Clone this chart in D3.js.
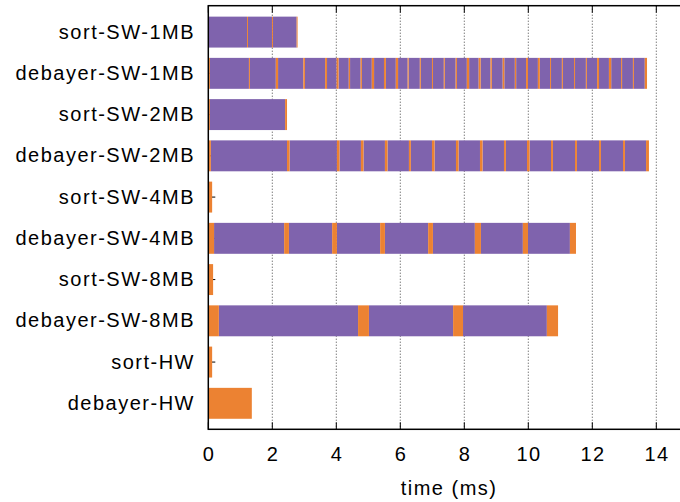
<!DOCTYPE html>
<html>
<head>
<meta charset="utf-8">
<script src="https://cdn.jsdelivr.net/npm/d3@7"></script>
<style>
  html, body { margin: 0; padding: 0; background: #fff; }
  svg { display: block; }
  text { font-family: "Liberation Sans", Arial, Helvetica, sans-serif; font-size: 20px; letter-spacing: 1.5px; fill: #000; }
</style>
</head>
<body>
<svg id="chart" width="680" height="502"></svg>
<script>
// Task rows, top to bottom
const categories = [
  "sort-SW-1MB", "debayer-SW-1MB",
  "sort-SW-2MB", "debayer-SW-2MB",
  "sort-SW-4MB", "debayer-SW-4MB",
  "sort-SW-8MB", "debayer-SW-8MB",
  "sort-HW", "debayer-HW"
];

const xTicks = [0, 2, 4, 6, 8, 10, 12, 14];
const xLabel = "time (ms)";

// Intervals in ms: compute phases and transfer phases per row
const computeSortSW1MB = [[0, 1.21], [1.24, 1.99], [2.02, 2.76]];
const transferSortSW1MB = [[1.21, 1.24], [1.99, 2.02], [2.76, 2.79]];

const computeDebayerSW1MB = [
  [0.05, 1.27], [1.30, 2.11], [2.18, 2.97], [3.02, 3.65], [3.71, 4.01], [4.07, 4.39],
  [4.43, 4.76], [4.80, 5.11], [5.18, 5.49], [5.55, 5.86], [5.93, 6.23], [6.26, 6.61],
  [6.64, 6.99], [7.02, 7.36], [7.39, 7.73], [7.77, 8.08], [8.15, 8.45], [8.51, 8.82],
  [8.86, 9.20], [9.25, 9.58], [9.62, 9.93], [9.99, 10.30], [10.36, 10.68], [10.71, 11.05],
  [11.08, 11.43], [11.46, 11.80], [11.83, 12.15], [12.21, 12.52], [12.59, 12.90],
  [12.93, 13.27], [13.30, 13.64]
];
const transferDebayerSW1MB = [
  [0, 0.05], [1.27, 1.30], [2.11, 2.18], [2.97, 3.02], [3.65, 3.71], [4.01, 4.07],
  [4.39, 4.43], [4.76, 4.80], [5.11, 5.18], [5.49, 5.55], [5.86, 5.93], [6.23, 6.26],
  [6.61, 6.64], [6.99, 7.02], [7.36, 7.39], [7.73, 7.77], [8.08, 8.15], [8.45, 8.51],
  [8.82, 8.86], [9.20, 9.25], [9.58, 9.62], [9.93, 9.99], [10.30, 10.36], [10.68, 10.71],
  [11.05, 11.08], [11.43, 11.46], [11.80, 11.83], [12.15, 12.21], [12.52, 12.59],
  [12.90, 12.93], [13.27, 13.30], [13.64, 13.71]
];

const computeSortSW2MB = [[0.05, 2.40]];
const transferSortSW2MB = [[0, 0.05], [2.40, 2.46]];

const computeDebayerSW2MB = [
  [0.08, 2.46], [2.54, 4.02], [4.10, 4.77], [4.85, 5.52], [5.60, 6.27], [6.33, 6.99],
  [7.07, 7.74], [7.82, 8.49], [8.57, 9.24], [9.30, 9.96], [10.04, 10.71], [10.77, 11.46],
  [11.52, 12.21], [12.27, 12.96], [13.02, 13.68]
];
const transferDebayerSW2MB = [
  [0, 0.08], [2.46, 2.54], [4.02, 4.10], [4.77, 4.85], [5.52, 5.60], [6.27, 6.33],
  [6.99, 7.07], [7.74, 7.82], [8.49, 8.57], [9.24, 9.30], [9.96, 10.04], [10.71, 10.77],
  [11.46, 11.52], [12.21, 12.27], [12.96, 13.02], [13.68, 13.77]
];

const computeSortSW4MB = [];
const transferSortSW4MB = [[0, 0.12]];

const computeDebayerSW4MB = [
  [0.18, 2.37], [2.52, 3.87], [4.02, 5.37], [5.52, 6.87], [7.02, 8.33], [8.52, 9.83], [9.99, 11.30]
];
const transferDebayerSW4MB = [
  [0, 0.18], [2.37, 2.52], [3.87, 4.02], [5.37, 5.52], [6.87, 7.02], [8.33, 8.52],
  [9.83, 9.99], [11.30, 11.49]
];

const computeSortSW8MB = [];
const transferSortSW8MB = [[0, 0.15]];

const computeDebayerSW8MB = [[0.33, 4.68], [5.02, 7.65], [7.96, 10.58]];
const transferDebayerSW8MB = [[0, 0.33], [4.68, 5.02], [7.65, 7.96], [10.58, 10.93]];

const computeSortHW = [];
const transferSortHW = [[0, 0.12]];

const computeDebayerHW = [];
const transferDebayerHW = [[0, 1.36]];

const computeByRow = [
  computeSortSW1MB, computeDebayerSW1MB, computeSortSW2MB, computeDebayerSW2MB,
  computeSortSW4MB, computeDebayerSW4MB, computeSortSW8MB, computeDebayerSW8MB,
  computeSortHW, computeDebayerHW
];
const transferByRow = [
  transferSortSW1MB, transferDebayerSW1MB, transferSortSW2MB, transferDebayerSW2MB,
  transferSortSW4MB, transferDebayerSW4MB, transferSortSW8MB, transferDebayerSW8MB,
  transferSortHW, transferDebayerHW
];

const colors = { compute: "#7f63ad", transfer: "#ec8232" };

// Flatten into one list of segments
const segments = [];
categories.forEach((c, i) => {
  computeByRow[i].forEach(([s, e]) => segments.push({ row: i, phase: "compute", start: s, end: e }));
  transferByRow[i].forEach(([s, e]) => segments.push({ row: i, phase: "transfer", start: s, end: e }));
});

const svg = d3.select("#chart");
const plotLeft = 208.3, plotRight = 688.3, plotTop = 5.7, plotBottom = 429.3;

const x = d3.scaleLinear().domain([0, 15]).range([plotLeft, plotRight]);
const y = d3.scaleLinear().domain([-0.64, 9.63]).range([plotTop, plotBottom]);
const barHalf = 0.375;

// Dotted vertical grid
svg.append("g")
  .selectAll("line")
  .data(xTicks.filter(t => t > 0))
  .join("line")
  .attr("x1", d => x(d)).attr("x2", d => x(d))
  .attr("y1", plotTop).attr("y2", plotBottom)
  .attr("stroke", "#444")
  .attr("stroke-width", 1)
  .attr("stroke-dasharray", "1,2");

// Inward tick marks on all sides
const tickG = svg.append("g").attr("stroke", "#000").attr("stroke-width", 1);
tickG.selectAll("line.xb").data(xTicks).join("line").attr("class", "xb")
  .attr("x1", d => x(d)).attr("x2", d => x(d))
  .attr("y1", plotBottom).attr("y2", plotBottom - 7);
tickG.selectAll("line.xt").data(xTicks).join("line").attr("class", "xt")
  .attr("x1", d => x(d)).attr("x2", d => x(d))
  .attr("y1", plotTop).attr("y2", plotTop + 7);
tickG.selectAll("line.yl").data(categories).join("line").attr("class", "yl")
  .attr("x1", plotLeft).attr("x2", plotLeft + 7)
  .attr("y1", (d, i) => y(i)).attr("y2", (d, i) => y(i));

// Timeline segments
svg.append("g")
  .selectAll("rect")
  .data(segments)
  .join("rect")
  .attr("x", d => x(d.start))
  .attr("width", d => x(d.end) - x(d.start))
  .attr("y", d => y(d.row - barHalf))
  .attr("height", d => y(d.row + barHalf) - y(d.row - barHalf))
  .attr("fill", d => colors[d.phase]);

// Frame
svg.append("rect")
  .attr("x", plotLeft).attr("y", plotTop)
  .attr("width", plotRight - plotLeft).attr("height", plotBottom - plotTop)
  .attr("fill", "none").attr("stroke", "#000").attr("stroke-width", 1.5);

// Row labels
svg.append("g")
  .selectAll("text")
  .data(categories)
  .join("text")
  .attr("x", 195)
  .attr("y", (d, i) => y(i) + 6.5)
  .attr("text-anchor", "end")
  .text(d => d);

// X tick labels
svg.append("g")
  .selectAll("text")
  .data(xTicks)
  .join("text")
  .attr("x", d => x(d) + 0.75)
  .attr("y", 461)
  .attr("text-anchor", "middle")
  .text(d => d);

svg.append("text")
  .attr("x", (plotLeft + plotRight) / 2 + 0.75)
  .attr("y", 495)
  .attr("text-anchor", "middle")
  .text(xLabel);
</script>
</body>
</html>
